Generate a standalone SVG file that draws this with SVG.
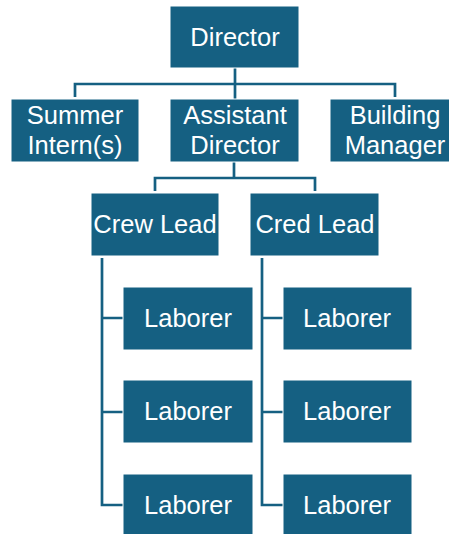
<svg xmlns="http://www.w3.org/2000/svg" width="449" height="534" viewBox="0 0 449 534">
<style>
.box{fill:#156082;stroke:#ffffff;stroke-width:1}
.t{font-family:"Liberation Sans",Arial,sans-serif;font-size:25.5px;fill:#ffffff;text-anchor:middle}
.c{fill:none;stroke:#156082;stroke-width:2.7}
</style>
<rect width="449" height="534" fill="#ffffff"/>
<g id="connectors">
<path class="c" d="M235 68V84M75 97V84H395V97M235 84V99"/>
<path class="c" d="M234 162V178M155 191V178H315V191"/>
<path class="c" d="M102 258V505H123M102 318H123M102 412H123"/>
<path class="c" d="M262 258V505H283M262 318H283M262 412H283"/>
</g>
<g id="director"><rect class="box" x="170" y="6" width="129" height="62"/><text class="t" x="235" y="45.5">Director</text></g>
<g id="summer-interns"><rect class="box" x="11" y="99" width="128" height="63"/><text class="t" x="75" y="123.5">Summer</text><text class="t" x="75" y="153.5">Intern(s)</text></g>
<g id="assistant-director"><rect class="box" x="170" y="99" width="129" height="63"/><text class="t" x="235" y="123.5">Assistant</text><text class="t" x="235" y="153.5">Director</text></g>
<g id="building-manager"><rect class="box" x="330" y="99" width="129" height="63"/><text class="t" x="395" y="123.5">Building</text><text class="t" x="395" y="153.5">Manager</text></g>
<g id="crew-lead"><rect class="box" x="91" y="193" width="128" height="63"/><text class="t" x="155" y="233">Crew Lead</text></g>
<g id="cred-lead"><rect class="box" x="250" y="193" width="129" height="63"/><text class="t" x="315" y="233">Cred Lead</text></g>
<g id="laborer-1"><rect class="box" x="123" y="287" width="130" height="63"/><text class="t" x="188" y="327">Laborer</text></g>
<g id="laborer-2"><rect class="box" x="123" y="380" width="130" height="63"/><text class="t" x="188" y="420">Laborer</text></g>
<g id="laborer-3"><rect class="box" x="123" y="474" width="130" height="63"/><text class="t" x="188" y="514">Laborer</text></g>
<g id="laborer-4"><rect class="box" x="283" y="287" width="129" height="63"/><text class="t" x="347" y="327">Laborer</text></g>
<g id="laborer-5"><rect class="box" x="283" y="380" width="129" height="63"/><text class="t" x="347" y="420">Laborer</text></g>
<g id="laborer-6"><rect class="box" x="283" y="474" width="129" height="63"/><text class="t" x="347" y="514">Laborer</text></g>
</svg>
